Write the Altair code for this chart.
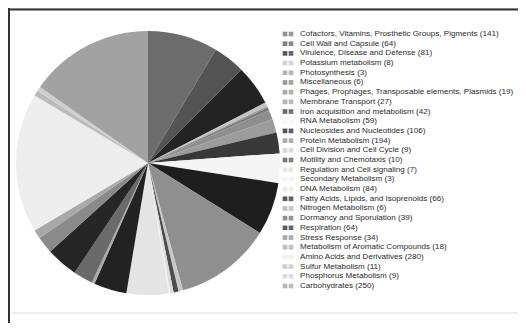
import altair as alt
import pandas as pd

categories = [
    "Cofactors, Vitamins, Prosthetic Groups, Pigments",
    "Cell Wall and Capsule",
    "Virulence, Disease and Defense",
    "Potassium metabolism",
    "Photosynthesis",
    "Miscellaneous",
    "Phages, Prophages, Transposable elements, Plasmids",
    "Membrane Transport",
    "Iron acquisition and metabolism",
    "RNA Metabolism",
    "Nucleosides and Nucleotides",
    "Protein Metabolism",
    "Cell Division and Cell Cycle",
    "Motility and Chemotaxis",
    "Regulation and Cell signaling",
    "Secondary Metabolism",
    "DNA Metabolism",
    "Fatty Acids, Lipids, and Isoprenoids",
    "Nitrogen Metabolism",
    "Dormancy and Sporulation",
    "Respiration",
    "Stress Response",
    "Metabolism of Aromatic Compounds",
    "Amino Acids and Derivatives",
    "Sulfur Metabolism",
    "Phosphorus Metabolism",
    "Carbohydrates",
]
counts = [141, 64, 81, 8, 3, 6, 19, 27, 42, 59, 106, 194, 9, 10, 7, 3,
          84, 66, 6, 39, 64, 34, 18, 280, 11, 9, 250]
shades = ["#6c6c6c", "#545454", "#232323", "#c4c4c4", "#9a9a9a", "#7a7a7a",
          "#8e8e8e", "#9c9c9c", "#383838", "#f4f4f4", "#1e1e1e", "#8f8f8f",
          "#c8c8c8", "#4e4e4e", "#dcdcdc", "#f0f0f0", "#e4e4e4", "#222222",
          "#aaaaaa", "#6a6a6a", "#262626", "#8a8a8a", "#a8a8a8", "#ededed",
          "#bbbbbb", "#cfcfcf", "#a2a2a2"]

df = pd.DataFrame({
    "cat": categories,
    "n": counts,
    "idx": list(range(len(categories))),
    "color": shades,
})
df["label"] = [f"{c} ({n})" for c, n in zip(categories, counts)]

W, H = 510, 315

pie = alt.Chart(df).mark_arc(radius=132, stroke=None).encode(
    theta=alt.Theta("n:Q", stack=True),
    order=alt.Order("idx:Q"),
    color=alt.Color("color:N", scale=None),
    x=alt.value(140),
    y=alt.value(155),
)

yscale = alt.Scale(domain=[0, 26], range=[26, 278])

sw1 = alt.Chart(df).mark_square(size=22, opacity=0.75).encode(
    x=alt.value(277),
    y=alt.Y("idx:Q", scale=yscale, axis=None),
    color=alt.Color("color:N", scale=None),
)
sw2 = alt.Chart(df).mark_square(size=22).encode(
    x=alt.value(283),
    y=alt.Y("idx:Q", scale=yscale, axis=None),
    color=alt.Color("color:N", scale=None),
)
txt = alt.Chart(df).mark_text(
    align="left", baseline="middle", fontSize=8.1, font="Liberation Sans",
    color="#2a2a2a", clip=False,
).encode(
    x=alt.value(292),
    y=alt.Y("idx:Q", scale=yscale, axis=None),
    text="label:N",
)

frame_top = alt.Chart(df.head(1)).mark_rule(color="#333333", strokeWidth=2).encode(
    x=alt.value(0), x2=alt.value(W), y=alt.value(1.5))
frame_left = alt.Chart(df.head(1)).mark_rule(color="#333333", strokeWidth=2).encode(
    x=alt.value(1), y=alt.value(0), y2=alt.value(H))
bottom_line = alt.Chart(df.head(1)).mark_rule(color="#d8d8d8", strokeWidth=1).encode(
    x=alt.value(4), x2=alt.value(W), y=alt.value(305))

chart = alt.layer(pie, sw1, sw2, txt, frame_top, frame_left, bottom_line).properties(
    width=W, height=H, padding=0,
    autosize=alt.AutoSizeParams(type="none"),
).configure_view(stroke=None).configure(background="white")

chart.save("out.html", embed_options={"renderer": "svg", "actions": False})
